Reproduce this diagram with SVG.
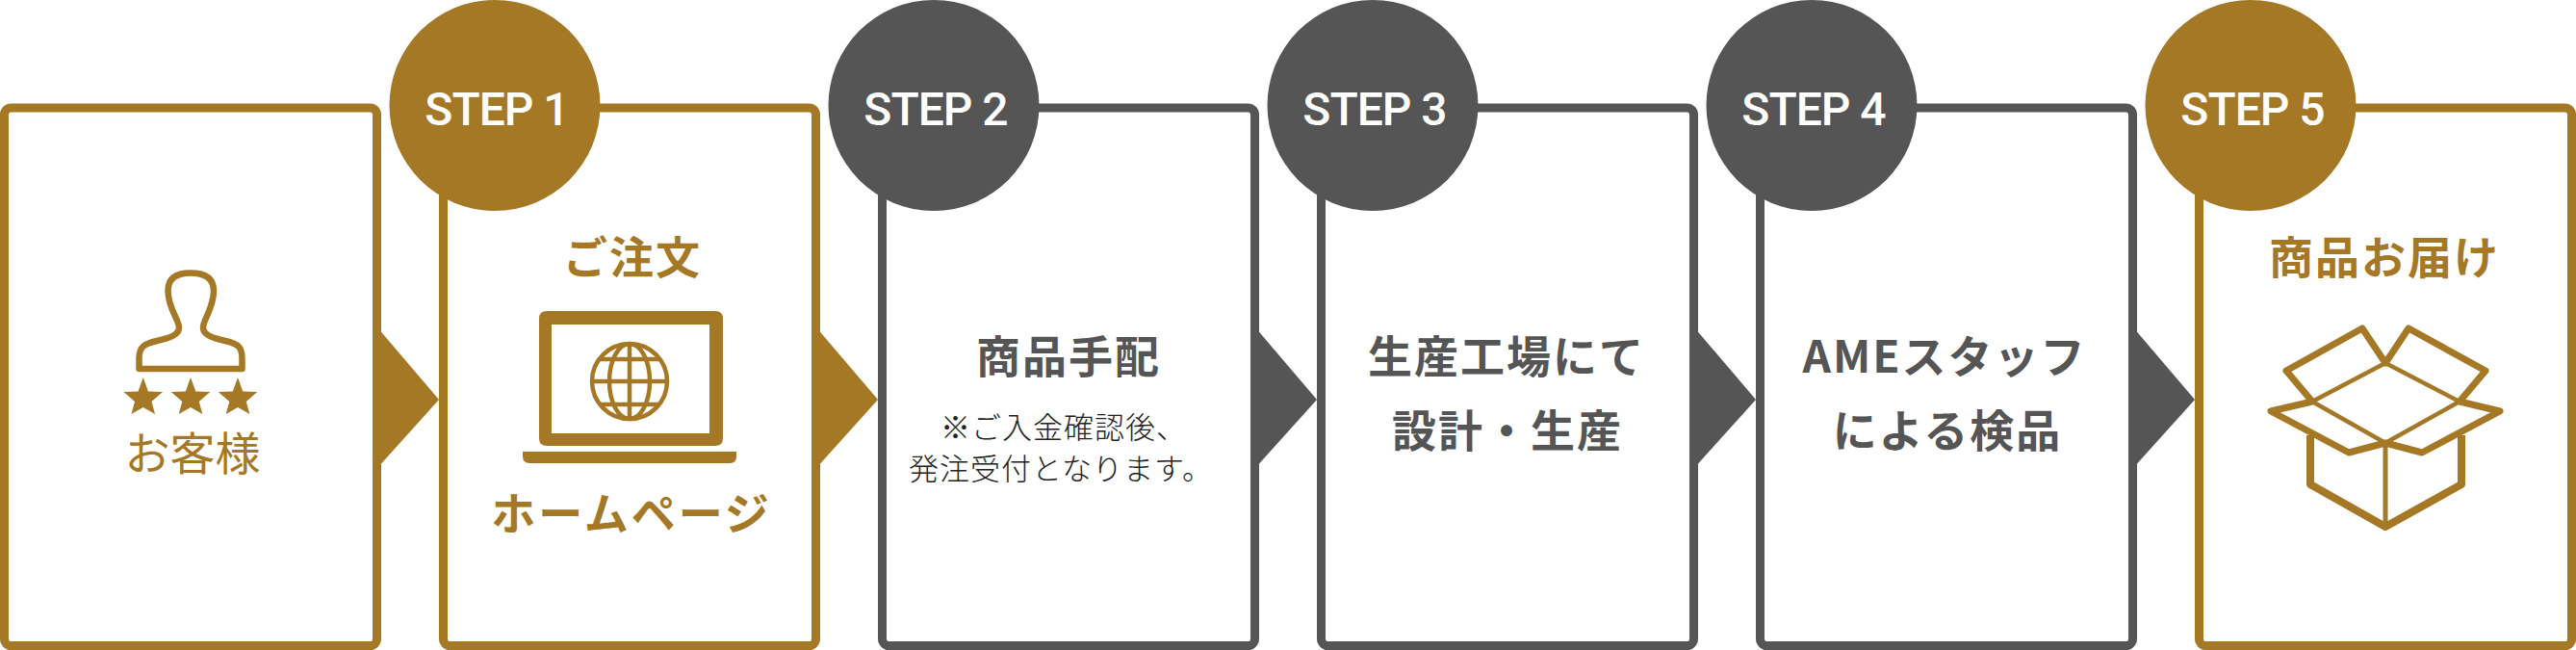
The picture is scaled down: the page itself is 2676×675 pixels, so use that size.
<svg xmlns="http://www.w3.org/2000/svg" width="2676" height="675" viewBox="0 0 2676 675">
<style>
.gold{fill:#a47825}.dark{fill:#555555}
.fg{fill:none;stroke:#a47825;stroke-width:9}.fd{fill:none;stroke:#555555;stroke-width:9}
.step{font-family:"Roboto","Liberation Sans",sans-serif;font-size:48px;font-weight:500;fill:#fff;text-anchor:middle;letter-spacing:-1px}
.t{font-family:"Noto Sans CJK JP",sans-serif;font-size:46px;font-weight:700;text-anchor:middle;letter-spacing:2px}
.n{font-family:"Noto Sans CJK JP",sans-serif;font-size:31px;font-weight:300;fill:#222;text-anchor:middle;letter-spacing:1px}
.ic{fill:none;stroke:#a47825;stroke-linejoin:round}
</style>
<rect width="2676" height="675" fill="#fff"/>
<g id="connectors">
<polygon class="gold" points="392,340 456,415 392,486"/>
<polygon class="gold" points="848,340 912,415 848,486"/>
<polygon class="dark" points="1304,340 1368,415 1304,486"/>
<polygon class="dark" points="1760,340 1824,415 1760,486"/>
<polygon class="dark" points="2216,340 2280,415 2216,486"/>
</g>
<g id="customer">
<rect class="fg" x="4.500" y="112" width="387" height="558.500" rx="7"/>
<path class="ic" stroke-width="6.500" d="M144.500 383V372C144.500 360 150 357 163 354C176 351 186 348 186 340C186 332 174.500 320 174.500 302C174.500 289 183 283.500 198 283.500C213 283.500 222 289 222 302C222 320 211 332 211 340C211 348 221 351 234 354C247 357 251.500 360 251.500 372V383Z"/>
<polygon class="gold" points="148.700,392 154,406.500 169,407 157.500,417 161,430 148.700,423 136.400,430 140,417 128.500,407 143.500,406.500"/>
<polygon class="gold" points="198,392 203.300,406.500 218.300,407 206.800,417 210.300,430 198,423 185.700,430 189.300,417 177.800,407 192.800,406.500"/>
<polygon class="gold" points="247,392 252.300,406.500 267.300,407 255.800,417 259.300,430 247,423 234.700,430 238.300,417 226.800,407 241.800,406.500"/>
<text x="200" y="488" class="t gold" style="font-weight:400;font-size:47px;letter-spacing:0">お客様</text>
</g>
<g id="step1">
<rect class="fg" x="460.500" y="112" width="387" height="558.500" rx="7"/>
<circle class="gold" cx="514" cy="109.500" r="109.500"/>
<text x="516" y="130" class="step">STEP 1</text>
<text x="657" y="284" class="t gold">ご注文</text>
<path class="gold" fill-rule="evenodd" d="M568 323H743Q751 323 751 331V455Q751 463 743 463H568Q560 463 560 455V331Q560 323 568 323ZM573 337V450H737V337Z"/>
<path class="gold" d="M543 469H765V474Q765 481 758 481H550Q543 481 543 474Z"/>
<g class="ic" stroke-width="4.500">
<circle cx="654" cy="396" r="39"/>
<ellipse cx="654" cy="396" rx="21" ry="39"/>
<path d="M654 357V435M615 396H693M622 373H686M622 420H686"/>
</g>
<text x="656" y="550" class="t gold" style="letter-spacing:3px">ホームページ</text>
</g>
<g id="step2">
<rect class="fd" x="916.500" y="112" width="387" height="558.500" rx="7"/>
<circle class="dark" cx="970" cy="109.500" r="109.500"/>
<text x="972" y="130" class="step">STEP 2</text>
<text x="1110" y="387" class="t dark">商品手配</text>
<text x="1105" y="455" class="n">※ご入金確認後、</text>
<text x="1102" y="498" class="n">発注受付となります。</text>
</g>
<g id="step3">
<rect class="fd" x="1372.500" y="112" width="387" height="558.500" rx="7"/>
<circle class="dark" cx="1426" cy="109.500" r="109.500"/>
<text x="1428" y="130" class="step">STEP 3</text>
<text x="1565" y="387" class="t dark">生産工場にて</text>
<text x="1566" y="464" class="t dark">設計・生産</text>
</g>
<g id="step4">
<rect class="fd" x="1828.500" y="112" width="387" height="558.500" rx="7"/>
<circle class="dark" cx="1882" cy="109.500" r="109.500"/>
<text x="1884" y="130" class="step">STEP 4</text>
<text x="2020" y="387" class="t dark">AMEスタッフ</text>
<text x="2023" y="464" class="t dark">による検品</text>
</g>
<g id="step5">
<rect class="fg" x="2284.500" y="112" width="387" height="558.500" rx="7"/>
<circle class="gold" cx="2338" cy="109.500" r="109.500"/>
<text x="2340" y="130" class="step">STEP 5</text>
<text x="2477" y="284" class="t gold">商品お届け</text>
<g class="ic">
<path stroke-width="4.500" d="M2478 377L2555 417L2478 460L2402 417Z"/>
<path stroke-width="7" d="M2402 417L2375 385L2454 341L2478 377L2502 341L2582 385L2555 417"/>
<path stroke-width="7" d="M2402 417L2359 427L2440 470L2478 460L2516 470L2597 427L2555 417"/>
<path stroke-width="8" d="M2400 452V503L2478 547L2557 503V452"/>
<path stroke-width="5" d="M2478 460V547"/>
</g>
</g>
</svg>
